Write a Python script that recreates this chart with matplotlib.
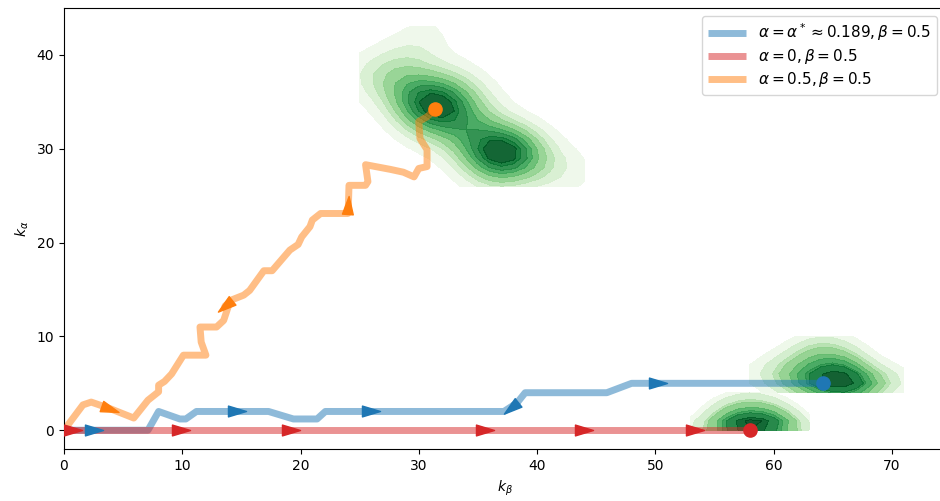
import numpy as np
import matplotlib
matplotlib.use("Agg")
import matplotlib.pyplot as plt
from matplotlib.path import Path
from matplotlib.markers import MarkerStyle
from matplotlib.transforms import Affine2D

# ---------------- data ----------------
labels = [r"$\alpha=\alpha^*\approx0.189, \beta=0.5$",
          r"$\alpha=0, \beta=0.5$",
          r"$\alpha=0.5, \beta=0.5$"]
colors = ["tab:blue", "tab:red", "tab:orange"]

blue_kb = [0, 2.5, 7.1, 8.0, 9.8, 10.3, 11.2, 14.6, 17.3, 19.4, 21.4, 22.1, 26.0,
           37.2, 38.3, 37.8, 38.3, 39.0, 45.9, 48.0, 50.2, 64.2]
blue_ka = [0, 0, 0, 2, 1.2, 1.2, 2, 2, 2, 1.2, 1.2, 2, 2,
           2, 2.9, 2.4, 2.9, 4, 4, 5, 5, 5]
blue_arrows = [1, 7, 12, 15, 20]

red_kb = [0, 0.8, 9.9, 19.2, 35.6, 44.0, 53.4, 58.0]
red_ka = [0, 0, 0, 0, 0, 0, 0, 0]
red_arrows = [1, 2, 3, 4, 5, 6]

orange_kb = [0, 1.6, 2.3, 3.9, 5.9, 7.1, 8.0, 8.0, 8.5, 9.1, 10.1, 12.0, 11.6, 11.5,
             12.9, 13.5, 14.0, 13.6, 14.2, 15.2, 15.7, 16.9, 17.6, 19.1, 19.8, 20.1,
             20.8, 21.0, 21.7, 24.0, 24.05, 24.1, 25.5, 25.7, 25.5, 27.6, 28.7, 29.6,
             30.0, 30.7, 30.7, 30.1, 30.0, 30.7, 31.4]
orange_ka = [0, 2.7, 3.0, 2.3, 1.3, 3.2, 4.1, 4.8, 5.2, 6.0, 8.0, 8.0, 9.4, 11.0,
             11.0, 11.7, 13.6, 13.2, 13.9, 14.4, 14.9, 17.0, 17.0, 19.2, 19.8, 20.6,
             21.7, 22.4, 23.1, 23.1, 24.0, 26.1, 26.1, 26.5, 28.3, 27.8, 27.5, 27.0,
             27.9, 28.1, 29.9, 31.1, 32.9, 33.4, 34.2]
orange_arrows = [3, 17, 30]

# endpoint samples used for the density clouds
blue_end_kb = [65, 64, 66, 65, 64, 66, 63, 67, 65, 64, 66, 62, 68, 63, 67, 62, 65, 64,
               61, 69, 60, 66, 63, 65, 70, 58, 71, 62, 68, 62, 64, 60, 66, 67, 67, 66]
blue_end_ka = [5, 5, 5, 4, 4, 4, 5, 5, 6, 6, 6, 5, 5, 6, 6, 7, 7, 8,
               6, 5, 5, 8, 9, 10, 6, 6, 5, 4, 4, 8, 9, 7, 7, 8, 4, 5]
red_end_kb = [58, 59, 57, 60, 56, 61, 55, 62, 54, 58, 59, 57,
              57, 58, 59, 60, 56, 61,
              55, 57, 59, 61, 56, 58, 60, 58, 53, 63]
red_end_ka = [0, 0, 0, 0, 0, 0, 0, 0, 0, 0, 0, 0,
              1, 1, 1, 1, 1, 1,
              2, 2, 2, 2, 3, 3, 3, 4, 0, 0]
orange_end_kb = [31, 32, 31, 32, 30, 32, 31, 33, 30, 31, 29, 30, 33, 32, 29, 33,
                 36, 37, 38, 37, 36, 38, 37, 39, 37, 36, 35, 38, 36, 39, 35, 38,
                 28, 29, 27, 34, 35, 33, 34, 40, 41, 29, 30, 33, 35, 42, 26, 28,
                 30, 33, 36, 39, 25, 44, 31, 36]
orange_end_ka = [35, 35, 34, 34, 36, 36, 36, 35, 34, 33, 35, 37, 36, 33, 34, 34,
                 30, 30, 29, 29, 31, 30, 28, 29, 31, 29, 30, 31, 28, 30, 29, 28,
                 38, 37, 39, 33, 32, 33, 31, 28, 27, 40, 41, 38, 36, 29, 37, 36,
                 32, 30, 34, 31, 38, 27, 43, 26]
# kernel widths (k_beta, k_alpha) of each cloud
cloud_bw = [(1.8, 1.3), (1.6, 1.1), (1.9, 1.9)]

paths = [(blue_kb, blue_ka, blue_arrows),
         (red_kb, red_ka, red_arrows),
         (orange_kb, orange_ka, orange_arrows)]
clouds = [(blue_end_kb, blue_end_ka), (red_end_kb, red_end_ka),
          (orange_end_kb, orange_end_ka)]

# ---------------- helpers ----------------
def kde_grid(xs, ys, bw):
    xs = np.asarray(xs, float)
    ys = np.asarray(ys, float)
    gx = np.arange(xs.min(), xs.max() + 1)
    gy = np.arange(ys.min(), ys.max() + 1)
    X, Y = np.meshgrid(gx, gy)
    dx = (X[..., None] - xs) / bw[0]
    dy = (Y[..., None] - ys) / bw[1]
    Z = np.exp(-0.5 * (dx ** 2 + dy ** 2)).sum(axis=-1)
    return X, Y, Z


def iso_levels(Z, n=10, thresh=0.05):
    props = np.linspace(thresh, 1, n)
    vals = np.ravel(Z)
    sv = np.sort(vals)[::-1]
    norm = np.cumsum(sv) / vals.sum()
    idx = np.searchsorted(norm, 1 - props)
    lv = np.take(sv, idx, mode="clip")
    return np.unique(lv)


arrow_path = Path([(1.0, 0.0), (-1.0, 0.6), (-1.0, -0.6), (1.0, 0.0)],
                  [Path.MOVETO, Path.LINETO, Path.LINETO, Path.CLOSEPOLY])

# ---------------- figure ----------------
fig = plt.figure(figsize=(9.4, 5.01), dpi=100)
ax = fig.add_axes([64 / 940, 52 / 501, 881 / 940, 441 / 501])
ax.set_xlim(0, 74.5)
ax.set_ylim(-2, 45)

for (xs, ys), bw in zip(clouds, cloud_bw):
    X, Y, Z = kde_grid(xs, ys, bw)
    ax.contourf(X, Y, Z, levels=iso_levels(Z), cmap="Greens", alpha=0.92, zorder=1)

for (xs, ys, arr), c, lab in zip(paths, colors, labels):
    ax.plot(xs, ys, color=c, alpha=0.5, lw=5, solid_capstyle="butt",
            solid_joinstyle="round", label=lab, zorder=2)
    for i in arr:
        p0 = ax.transData.transform((xs[i - 1], ys[i - 1]))
        p1 = ax.transData.transform((xs[i], ys[i]))
        ang = np.degrees(np.arctan2(p1[1] - p0[1], p1[0] - p0[0]))
        m = MarkerStyle(arrow_path, transform=Affine2D().rotate_deg(ang))
        ax.plot([xs[i]], [ys[i]], marker=m, markersize=13, color=c,
                linestyle="none", zorder=3)

for (xs, ys, arr), c in zip(paths, colors):
    ax.plot([xs[-1]], [ys[-1]], "o", color=c, markersize=9.5, zorder=4)

ax.set_xlabel(r"$k_\beta$")
ax.set_ylabel(r"$k_\alpha$")
ax.set_xticks([0, 10, 20, 30, 40, 50, 60, 70])
ax.set_yticks([0, 10, 20, 30, 40])
ax.legend(loc="upper right", fontsize=11, handlelength=2.5, labelspacing=0.25)

fig.savefig("out.png", dpi=100)
